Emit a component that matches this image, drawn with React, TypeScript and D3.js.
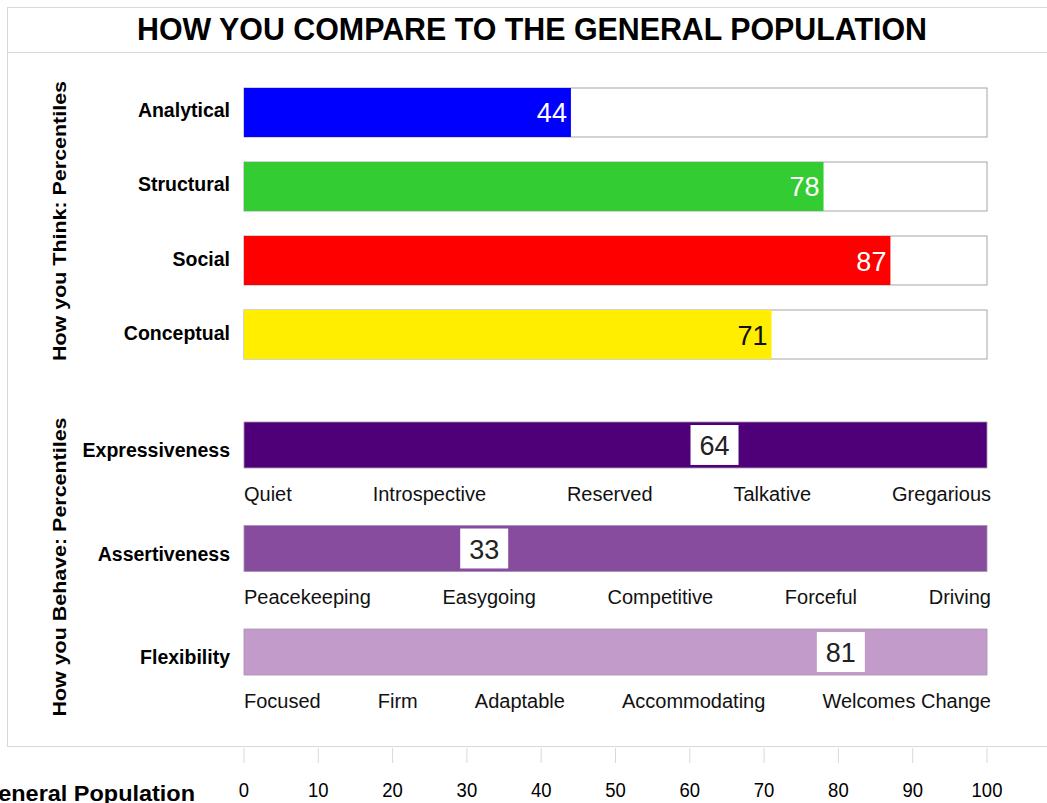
import React, { useEffect, useRef } from "react";
import * as d3 from "d3";

const thinkCategories = ["Analytical", "Structural", "Social", "Conceptual"];
const thinkValues = [44, 78, 87, 71];
const thinkColors = ["#0000ff", "#33cc33", "#ff0000", "#ffee00"];
const thinkTextColors = ["#ffffff", "#ffffff", "#ffffff", "#111111"];

const behaveCategories = ["Expressiveness", "Assertiveness", "Flexibility"];
const behaveValues = [64, 33, 81];
const behaveColors = ["#4f0078", "#884c9e", "#c39bcb"];
const behaveScaleLabels = [
  ["Quiet", "Introspective", "Reserved", "Talkative", "Gregarious"],
  ["Peacekeeping", "Easygoing", "Competitive", "Forceful", "Driving"],
  ["Focused", "Firm", "Adaptable", "Accommodating", "Welcomes Change"],
];

const tickValues = [0, 10, 20, 30, 40, 50, 60, 70, 80, 90, 100];

function App() {
  const ref = useRef<SVGSVGElement>(null);

  useEffect(() => {
    drawChart();
  }, []);

  function drawChart() {
    const width = 1047,
      height = 803;
    const font = "'Liberation Sans', Arial, sans-serif";

    const svg = d3.select(ref.current);
    svg.selectAll("*").remove();
    svg.attr("width", width).attr("height", height).style("font-family", font);

    const x = d3.scaleLinear().domain([0, 100]).range([244, 987]);

    // frame
    const frame = svg.append("g").attr("fill", "none").attr("stroke", "#d9d9d9");
    frame.append("rect").attr("x", 7.5).attr("y", 7.5).attr("width", 1100).attr("height", 739);
    frame.append("line").attr("x1", 7.5).attr("x2", 1100).attr("y1", 52.5).attr("y2", 52.5);

    svg
      .append("text")
      .attr("x", 532)
      .attr("y", 40)
      .attr("text-anchor", "middle")
      .attr("textLength", 790)
      .attr("lengthAdjust", "spacingAndGlyphs")
      .style("font-size", "32px")
      .style("font-weight", "bold")
      .text("HOW YOU COMPARE TO THE GENERAL POPULATION");

    // side titles
    svg
      .append("text")
      .attr("transform", "translate(66,221) rotate(-90)")
      .attr("text-anchor", "middle")
      .attr("textLength", 280)
      .attr("lengthAdjust", "spacingAndGlyphs")
      .style("font-size", "19px")
      .style("font-weight", "bold")
      .text("How you Think: Percentiles");
    svg
      .append("text")
      .attr("transform", "translate(66,567) rotate(-90)")
      .attr("text-anchor", "middle")
      .attr("textLength", 299)
      .attr("lengthAdjust", "spacingAndGlyphs")
      .style("font-size", "19px")
      .style("font-weight", "bold")
      .text("How you Behave: Percentiles");

    // think bars
    const yThink = d3.scaleBand().domain(thinkCategories).range([88, 359]).paddingInner(0.338).paddingOuter(0);
    const think = svg
      .selectAll(".think")
      .data(thinkCategories)
      .enter()
      .append("g")
      .attr("class", "think");

    think
      .append("rect")
      .attr("x", x(0))
      .attr("y", (d) => yThink(d)!)
      .attr("width", x(100) - x(0))
      .attr("height", yThink.bandwidth())
      .attr("fill", "#fff")
      .attr("stroke", "#a6a6a6");
    think
      .append("rect")
      .attr("x", x(0))
      .attr("y", (d) => yThink(d)!)
      .attr("width", (d, i) => x(thinkValues[i]) - x(0))
      .attr("height", yThink.bandwidth())
      .attr("fill", (d, i) => thinkColors[i]);
    think
      .append("text")
      .attr("x", (d, i) => x(thinkValues[i]) - 4)
      .attr("y", (d) => yThink(d)! + yThink.bandwidth() / 2 + 10)
      .attr("text-anchor", "end")
      .attr("fill", (d, i) => thinkTextColors[i])
      .style("font-size", "27px")
      .text((d, i) => thinkValues[i]);
    think
      .append("text")
      .attr("x", 230)
      .attr("y", (d) => yThink(d)! + yThink.bandwidth() / 2 + 5)
      .attr("text-anchor", "end")
      .style("font-size", "19.5px")
      .style("font-weight", "bold")
      .text((d) => d);

    // behave bars
    const yBehave = d3.scaleBand().domain(behaveCategories).range([422, 675]).paddingInner(0.556).paddingOuter(0);
    const behave = svg
      .selectAll(".behave")
      .data(behaveCategories)
      .enter()
      .append("g")
      .attr("class", "behave");

    behave
      .append("rect")
      .attr("x", x(0))
      .attr("y", (d) => yBehave(d)!)
      .attr("width", x(100) - x(0))
      .attr("height", yBehave.bandwidth())
      .attr("fill", (d, i) => behaveColors[i])
      .attr("stroke", "#a58fae")
      .attr("stroke-width", 0.8);
    behave
      .append("rect")
      .attr("x", (d, i) => x(behaveValues[i]) - 29)
      .attr("y", (d) => yBehave(d)! + 3)
      .attr("width", 48)
      .attr("height", yBehave.bandwidth() - 6)
      .attr("fill", "#fff");
    behave
      .append("text")
      .attr("x", (d, i) => x(behaveValues[i]) - 5)
      .attr("y", (d) => yBehave(d)! + yBehave.bandwidth() / 2 + 10)
      .attr("text-anchor", "middle")
      .attr("fill", "#222")
      .style("font-size", "27px")
      .text((d, i) => behaveValues[i]);
    behave
      .append("text")
      .attr("x", 230)
      .attr("y", (d) => yBehave(d)! + yBehave.bandwidth() / 2 + 12)
      .attr("text-anchor", "end")
      .style("font-size", "19.5px")
      .style("font-weight", "bold")
      .text((d) => d);

    // scale words spread between both ends of the bar
    behaveCategories.forEach((cat, i) => {
      const words = behaveScaleLabels[i];
      const row = svg.append("g");
      const texts = row
        .selectAll("text")
        .data(words)
        .enter()
        .append("text")
        .attr("y", yBehave(cat)! + yBehave.bandwidth() + 33)
        .attr("fill", "#111")
        .style("font-size", "20px")
        .text((d) => d);
      const widths = texts.nodes().map((n) => (n as SVGTextElement).getComputedTextLength());
      const left = x(0),
        right = x(100) + 4;
      const gap = (right - left - d3.sum(widths)) / (words.length - 1);
      let pos = left;
      texts.attr("x", (d, j) => {
        const p = pos;
        pos += widths[j] + gap;
        return p;
      });
    });

    // bottom axis
    const axis = svg.append("g").attr("transform", "translate(0,748)");
    axis
      .selectAll("line")
      .data(tickValues)
      .enter()
      .append("line")
      .attr("x1", (d) => x(d))
      .attr("x2", (d) => x(d))
      .attr("y1", 0)
      .attr("y2", 15)
      .attr("stroke", "#d9d9d9");
    axis
      .selectAll("text")
      .data(tickValues)
      .enter()
      .append("text")
      .attr("transform", (d) => "translate(" + x(d) + ",49) scale(0.88,1)")
      .attr("text-anchor", "middle")
      .style("font-size", "21px")
      .text((d) => d);

    svg
      .append("text")
      .attr("x", 195)
      .attr("y", 801)
      .attr("text-anchor", "end")
      .attr("textLength", 215)
      .attr("lengthAdjust", "spacingAndGlyphs")
      .style("font-size", "22px")
      .style("font-weight", "bold")
      .text("General Population");
  }

  return (
    <div style={{ position: "absolute", left: 0, top: 0 }}>
      <svg ref={ref} style={{ display: "block" }} />
    </div>
  );
}

export default App;
